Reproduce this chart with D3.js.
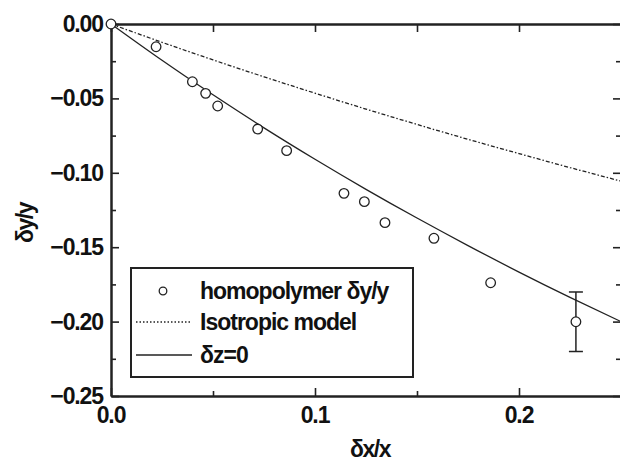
<!DOCTYPE html>
<html><head><meta charset="utf-8">
<script src="https://cdn.jsdelivr.net/npm/d3@7"></script>
<style>
html,body{margin:0;padding:0;background:#fff;}
svg{display:block;}
text{font-family:"Liberation Sans",Arial,sans-serif;fill:#111;}
</style></head>
<body>
<svg id="c" width="620" height="462"></svg>
<script>
// measured data: homopolymer δy/y vs δx/x
const dataX = [0, 0.0221, 0.0399, 0.0464, 0.0523, 0.0719, 0.0861, 0.1142, 0.1242, 0.1343, 0.1583, 0.1861, 0.2279];
const dataY = [0, -0.0153, -0.0388, -0.0466, -0.0551, -0.0706, -0.0851, -0.1138, -0.1194, -0.1335, -0.1440, -0.1739, -0.2001];
const dataErr = [0, 0, 0, 0, 0, 0, 0, 0, 0, 0, 0, 0, 0.02];
// isotropic model curve
const isoX = [0, 0.025, 0.05, 0.075, 0.1, 0.125, 0.15, 0.175, 0.2, 0.225, 0.25];
const isoY = [0, -0.0123, -0.0241, -0.0355, -0.0465, -0.0572, -0.0675, -0.0775, -0.0871, -0.0965, -0.1056];
// δz=0 curve
const dzX = [0, 0.025, 0.05, 0.075, 0.1, 0.125, 0.15, 0.175, 0.2, 0.225, 0.25];
const dzY = [0, -0.0244, -0.0476, -0.0698, -0.0909, -0.1111, -0.1304, -0.1489, -0.1667, -0.1837, -0.2];
const xTicks = [0, 0.1, 0.2];
const xMinor = [0.05, 0.15, 0.25];
const yTicks = [0, -0.05, -0.1, -0.15, -0.2, -0.25];
const yMinor = [-0.025, -0.075, -0.125, -0.175, -0.225];
const xTickLabels = ["0.0", "0.1", "0.2"];
const yTickLabels = ["0.00", "-0.05", "-0.10", "-0.15", "-0.20", "-0.25"];
const legendLabels = ["homopolymer δy/y", "Isotropic model", "δz=0"];

const svg = d3.select("#c");
const L = 111, R = 621, T = 24, B = 396;
const x = d3.scaleLinear().domain([0, 0.25]).range([L, R]);
const y = d3.scaleLinear().domain([-0.25, 0]).range([B, T]);
const ink = "#222";

// curves
const line = d3.line().x(d => x(d[0])).y(d => y(d[1])).curve(d3.curveNatural);
svg.append("path").datum(isoX.map((v, i) => [v, isoY[i]]))
  .attr("d", line).attr("fill", "none").attr("stroke", ink)
  .attr("stroke-width", 1.3).attr("stroke-dasharray", "4,2,1.5,2");
svg.append("path").datum(dzX.map((v, i) => [v, dzY[i]]))
  .attr("d", line).attr("fill", "none").attr("stroke", ink).attr("stroke-width", 1.3);

// axes frame with inward ticks
function axes() {
  const g = svg.append("g");
  const mk = (axis, tr) => {
    const a = g.append("g").attr("transform", tr).call(axis);
    a.selectAll("text").remove();
    a.select(".domain").attr("stroke", ink).attr("stroke-width", 2);
    a.selectAll(".tick line").attr("stroke", ink).attr("stroke-width", 1.6);
    return a;
  };
  // major
  mk(d3.axisBottom(x).tickValues(xTicks).tickSizeInner(-8).tickSizeOuter(0), `translate(0,${B})`);
  mk(d3.axisTop(x).tickValues(xTicks).tickSizeInner(-8).tickSizeOuter(0), `translate(0,${T})`);
  mk(d3.axisLeft(y).tickValues(yTicks).tickSizeInner(-8).tickSizeOuter(0), `translate(${L},0)`);
  mk(d3.axisRight(y).tickValues(yTicks).tickSizeInner(-8).tickSizeOuter(0), `translate(${R},0)`);
  // minor
  mk(d3.axisBottom(x).tickValues(xMinor).tickSizeInner(-5).tickSizeOuter(0), `translate(0,${B})`);
  mk(d3.axisTop(x).tickValues(xMinor).tickSizeInner(-8).tickSizeOuter(0), `translate(0,${T})`);
  mk(d3.axisLeft(y).tickValues(yMinor).tickSizeInner(-5).tickSizeOuter(0), `translate(${L},0)`);
  mk(d3.axisRight(y).tickValues(yMinor).tickSizeInner(-5).tickSizeOuter(0), `translate(${R},0)`);
}
axes();

// tick labels
const lblStyle = s => s.attr("font-size", 23).attr("font-weight", "bold").attr("letter-spacing", -1.1);
svg.selectAll(".xl").data(xTicks).enter().append("text")
  .attr("x", d => x(d)).attr("y", 423).attr("text-anchor", "middle")
  .text((d, i) => xTickLabels[i]).call(lblStyle);
svg.selectAll(".yl").data(yTicks).enter().append("text")
  .attr("x", 103).attr("y", d => y(d) + 8).attr("text-anchor", "end")
  .text((d, i) => yTickLabels[i].replace("-", "\u2212")).call(lblStyle);

// axis titles
svg.append("text").attr("x", 370).attr("y", 457).attr("text-anchor", "middle")
  .attr("font-size", 23).attr("font-weight", "bold").attr("letter-spacing", -1.5).text("δx/x");
svg.append("text").attr("transform", "translate(33,223) rotate(-90)").attr("text-anchor", "middle")
  .attr("font-size", 23).attr("font-weight", "bold").attr("letter-spacing", -1.5).text("δy/y");

// error bars
const pts = dataX.map((v, i) => ({x: v, y: dataY[i], e: dataErr[i]}));
const eb = pts.filter(p => p.e > 0);
const ebg = svg.append("g").attr("stroke", ink).attr("stroke-width", 1.5);
eb.forEach(p => {
  ebg.append("line").attr("x1", x(p.x)).attr("x2", x(p.x)).attr("y1", y(p.y + p.e)).attr("y2", y(p.y - p.e));
  ebg.append("line").attr("x1", x(p.x) - 7).attr("x2", x(p.x) + 7).attr("y1", y(p.y + p.e)).attr("y2", y(p.y + p.e));
  ebg.append("line").attr("x1", x(p.x) - 7).attr("x2", x(p.x) + 7).attr("y1", y(p.y - p.e)).attr("y2", y(p.y - p.e));
});

// points
svg.selectAll(".pt").data(pts).enter().append("circle")
  .attr("cx", d => x(d.x)).attr("cy", d => y(d.y)).attr("r", 4.8)
  .attr("fill", "#fff").attr("stroke", ink).attr("stroke-width", 1.3);

// legend
const lg = svg.append("g");
lg.append("rect").attr("x", 131).attr("y", 268).attr("width", 282).attr("height", 109)
  .attr("fill", "#fff").attr("stroke", ink).attr("stroke-width", 2);
const rows = [291, 322, 355];
lg.append("circle").attr("cx", 163).attr("cy", rows[0]).attr("r", 3.8)
  .attr("fill", "#fff").attr("stroke", ink).attr("stroke-width", 1.3);
lg.append("line").attr("x1", 136).attr("x2", 192).attr("y1", rows[1]).attr("y2", rows[1])
  .attr("stroke", ink).attr("stroke-width", 1.3).attr("stroke-dasharray", "1.5,2");
lg.append("line").attr("x1", 136).attr("x2", 192).attr("y1", rows[2]).attr("y2", rows[2])
  .attr("stroke", ink).attr("stroke-width", 1.5);
lg.selectAll(".lt").data(legendLabels).enter().append("text")
  .attr("x", 200).attr("y", (d, i) => rows[i] + 8)
  .attr("font-size", 23).attr("font-weight", "bold").attr("letter-spacing", -1.0)
  .text(d => d);
</script>
</body></html>
